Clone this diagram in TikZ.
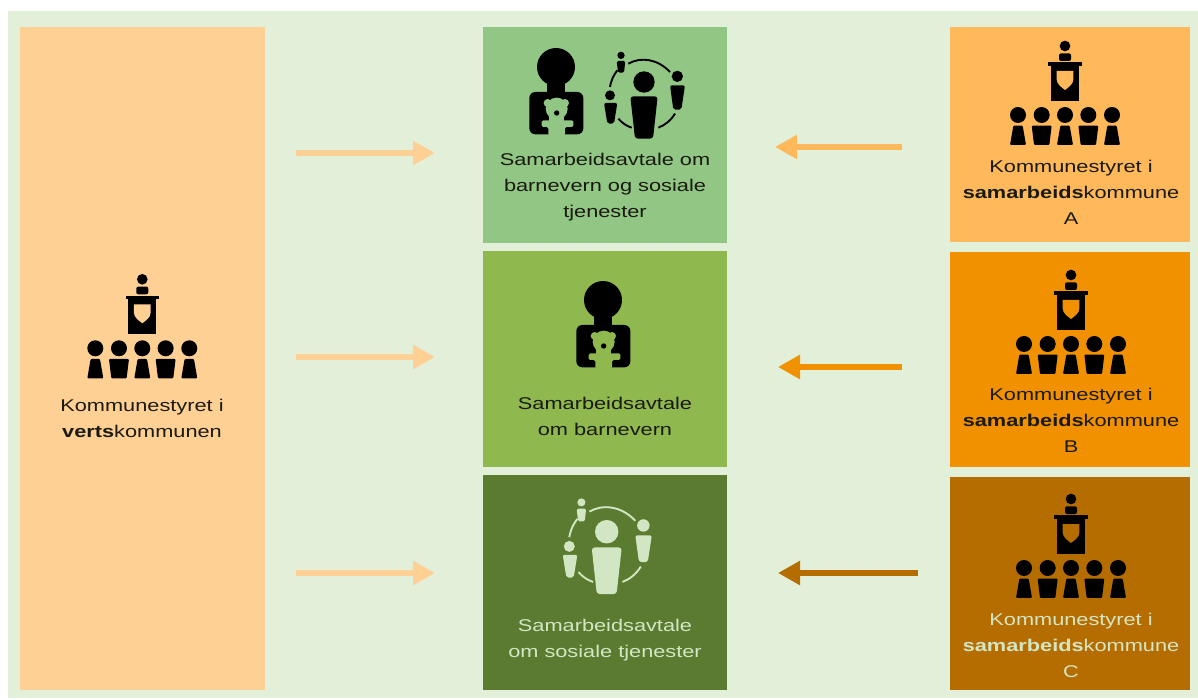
\documentclass[tikz,border=0pt]{standalone}
\usepackage{fontspec}
\setmainfont{Liberation Sans}[FakeStretch=1.28]
\usetikzlibrary{arrows.meta}
\definecolor{bgG}{HTML}{E2EFD9}
\definecolor{lft}{HTML}{FFD093}
\definecolor{mA}{HTML}{91C684}
\definecolor{mB}{HTML}{8FB84F}
\definecolor{mC}{HTML}{5B7B30}
\definecolor{rA}{HTML}{FFB95A}
\definecolor{rB}{HTML}{F29100}
\definecolor{rC}{HTML}{B66D00}
\definecolor{lightT}{HTML}{D3E6C3}
\definecolor{ink}{HTML}{1A1A10}
\tikzset{
  x=1pt,y=-1pt,
  panel/.style={inner sep=0pt,outer sep=0pt},
  lbl/.style={align=center,inner sep=0pt,font=\fontsize{17}{26}\selectfont,text=ink},
  flow/.style={line width=6.5pt,-{Triangle[length=22pt,width=23pt]}},
  pics/council/.style={code={
    \begin{scope}[x=.3333pt,y=-.3333pt]
    \fill[black] (0,0) circle (16);
    \fill[black,rounded corners=2pt] (-18,22) rectangle (18,45);
    \fill[black] (-50,49) rectangle (50,60);
    \fill[black] (-42,60) rectangle (42,165);
    \fill[#1] (-25,75) -- (25,75) -- (25,100) .. controls (25,115) and (10,124) .. (0,132) .. controls (-10,124) and (-25,115) .. (-25,100) -- cycle;
    \foreach \q in {-141,0,141}{
      \fill[black] (\q,207) circle (24);
      \fill[black,shift={(\q,0)},rounded corners=1pt] (-14,239) -- (14,239) -- (24,297) -- (-24,297) -- cycle;}
    \foreach \q in {-70,70}{
      \fill[black] (\q,207) circle (24);
      \fill[black,shift={(\q,0)},rounded corners=1pt] (-30,239) -- (30,239) -- (23,297) -- (-23,297) -- cycle;}
    \end{scope}}},
  pics/child/.style={code={
    \begin{scope}[x=.3333pt,y=-.3333pt]
    \fill[black] (0,0) circle (57);
    \fill[black] (-28,45) rectangle (28,90);
    \fill[black,rounded corners=6pt] (-80,75) -- (82,75) -- (82,202) -- (-80,202) -- cycle;
    \fill[#1,rounded corners=1.5pt] (-43,160) -- (52,160) -- (52,180) -- (27,180) -- (27,206) -- (-23,206) -- (-23,180) -- (-43,180) -- cycle;
    \fill[#1] (-20,145) rectangle (25,170);
    \fill[#1] (-25,108) circle (12) (27,108) circle (12);
    \fill[#1] (2,125) ellipse (33 and 33);
    \fill[black] (2,138) circle (8);
    \end{scope}}},
  pics/ring/.style={code={
    \begin{scope}[x=.3333pt,y=-.3333pt]
    \fill[#1] (0,0) circle (32);
    \fill[#1,rounded corners=3pt] (-41,43) -- (41,43) -- (27,170) -- (-27,170) -- cycle;
    \fill[#1] (-69,-80) circle (11);
    \fill[#1,rounded corners=1.5pt] (-82,-63) -- (-56,-63) -- (-60,-28) -- (-78,-28) -- cycle;
    \fill[#1] (100,-17) circle (17);
    \fill[#1,rounded corners=2pt] (78,10) -- (123,10) -- (112,83) -- (88,83) -- cycle;
    \fill[#1] (-102,40) circle (15);
    \fill[#1,rounded corners=2pt] (-120,63) -- (-80,63) -- (-90,125) -- (-110,125) -- cycle;
    \end{scope}}},
}
\newcommand{\ringarcs}[3]{%
  \begin{scope}[shift={(#1)},x=#3pt,y=-#3pt]
    \draw[#2,line width=1.9pt] (-47,-55) .. controls (-10,-76) and (40,-70) .. (78,-30);
    \draw[#2,line width=1.9pt] (-80,-35) .. controls (-90,-22) and (-98,-8) .. (-102,15);
    \draw[#2,line width=1.9pt] (-77,110) .. controls (-65,124) and (-52,132) .. (-37,137);
    \draw[#2,line width=1.9pt] (43,137) .. controls (62,130) and (80,116) .. (93,95);
  \end{scope}}
\begin{document}
\begin{tikzpicture}
\useasboundingbox (0,0) rectangle (1198,700);
\fill[white] (0,0) rectangle (1198,700);
\fill[bgG] (8,11) rectangle (1198,698);

\node[panel,fill=lft,minimum width=245pt,minimum height=663pt] (host) at (142.5,358.5) {};
\node[panel,fill=mA,minimum width=244pt,minimum height=216pt] (both) at (605,135) {};
\node[panel,fill=mB,minimum width=244pt,minimum height=216pt] (child) at (605,359) {};
\node[panel,fill=mC,minimum width=244pt,minimum height=215pt] (social) at (605,582.5) {};
\node[panel,fill=rA,minimum width=240pt,minimum height=215pt] (a) at (1070,134.5) {};
\node[panel,fill=rB,minimum width=240pt,minimum height=215pt] (b) at (1070,359.5) {};
\node[panel,fill=rC,minimum width=240pt,minimum height=213pt] (c) at (1070,583.5) {};

\pic at (142.3,279.3) {council=lft};
\pic at (1065,46) {council=rA};
\pic at (1071,275) {council=rB};
\pic at (1071,499) {council=rC};
\pic at (556,67) {child=mA};
\pic at (603,300) {child=mB};
\pic at (644,82) {ring=black};
\ringarcs{644,82}{black}{.3333}
\begin{scope}[shift={(606.7,531.7)},scale=1.1]
\pic[transform shape] at (0,0) {ring=lightT};
\end{scope}
\ringarcs{606.7,531.7}{lightT}{.3667}

\node[lbl] (hostT) at (142,418) {Kommunestyret i\\\textbf{verts}kommunen};
\node[lbl] (bothT) at (605,187.5) {Samarbeidsavtale om\\barnevern og sosiale\\tjenester};
\node[lbl] (childT) at (605,416) {Samarbeidsavtale\\om barnevern};
\node[lbl,text=lightT] (socialT) at (605,640) {Samarbeidsavtale\\om sosiale tjenester};
\node[lbl] (aT) at (1071,192) {Kommunestyret i\\\textbf{samarbeids}kommune\\A};
\node[lbl] (bT) at (1071,420) {Kommunestyret i\\\textbf{samarbeids}kommune\\B};
\node[lbl,text=lightT] (cT) at (1071,645.5) {Kommunestyret i\\\textbf{samarbeids}kommune\\C};

\coordinate (l1) at (296,153); \coordinate (m1) at (435,153);
\coordinate (l2) at (296,357); \coordinate (m2) at (435,357);
\coordinate (l3) at (296,573); \coordinate (m3) at (435,573);
\coordinate (r1) at (902,147); \coordinate (n1) at (775,147);
\coordinate (r2) at (902,367); \coordinate (n2) at (778,367);
\coordinate (r3) at (918,573); \coordinate (n3) at (778,573);
\foreach \s/\e in {l1/m1,l2/m2,l3/m3}{\draw[flow,draw=lft,fill=lft] (\s) -- (\e);}
\draw[flow,draw=rA] (r1) -- (n1);
\draw[flow,draw=rB] (r2) -- (n2);
\draw[flow,draw=rC] (r3) -- (n3);
\end{tikzpicture}
\end{document}
